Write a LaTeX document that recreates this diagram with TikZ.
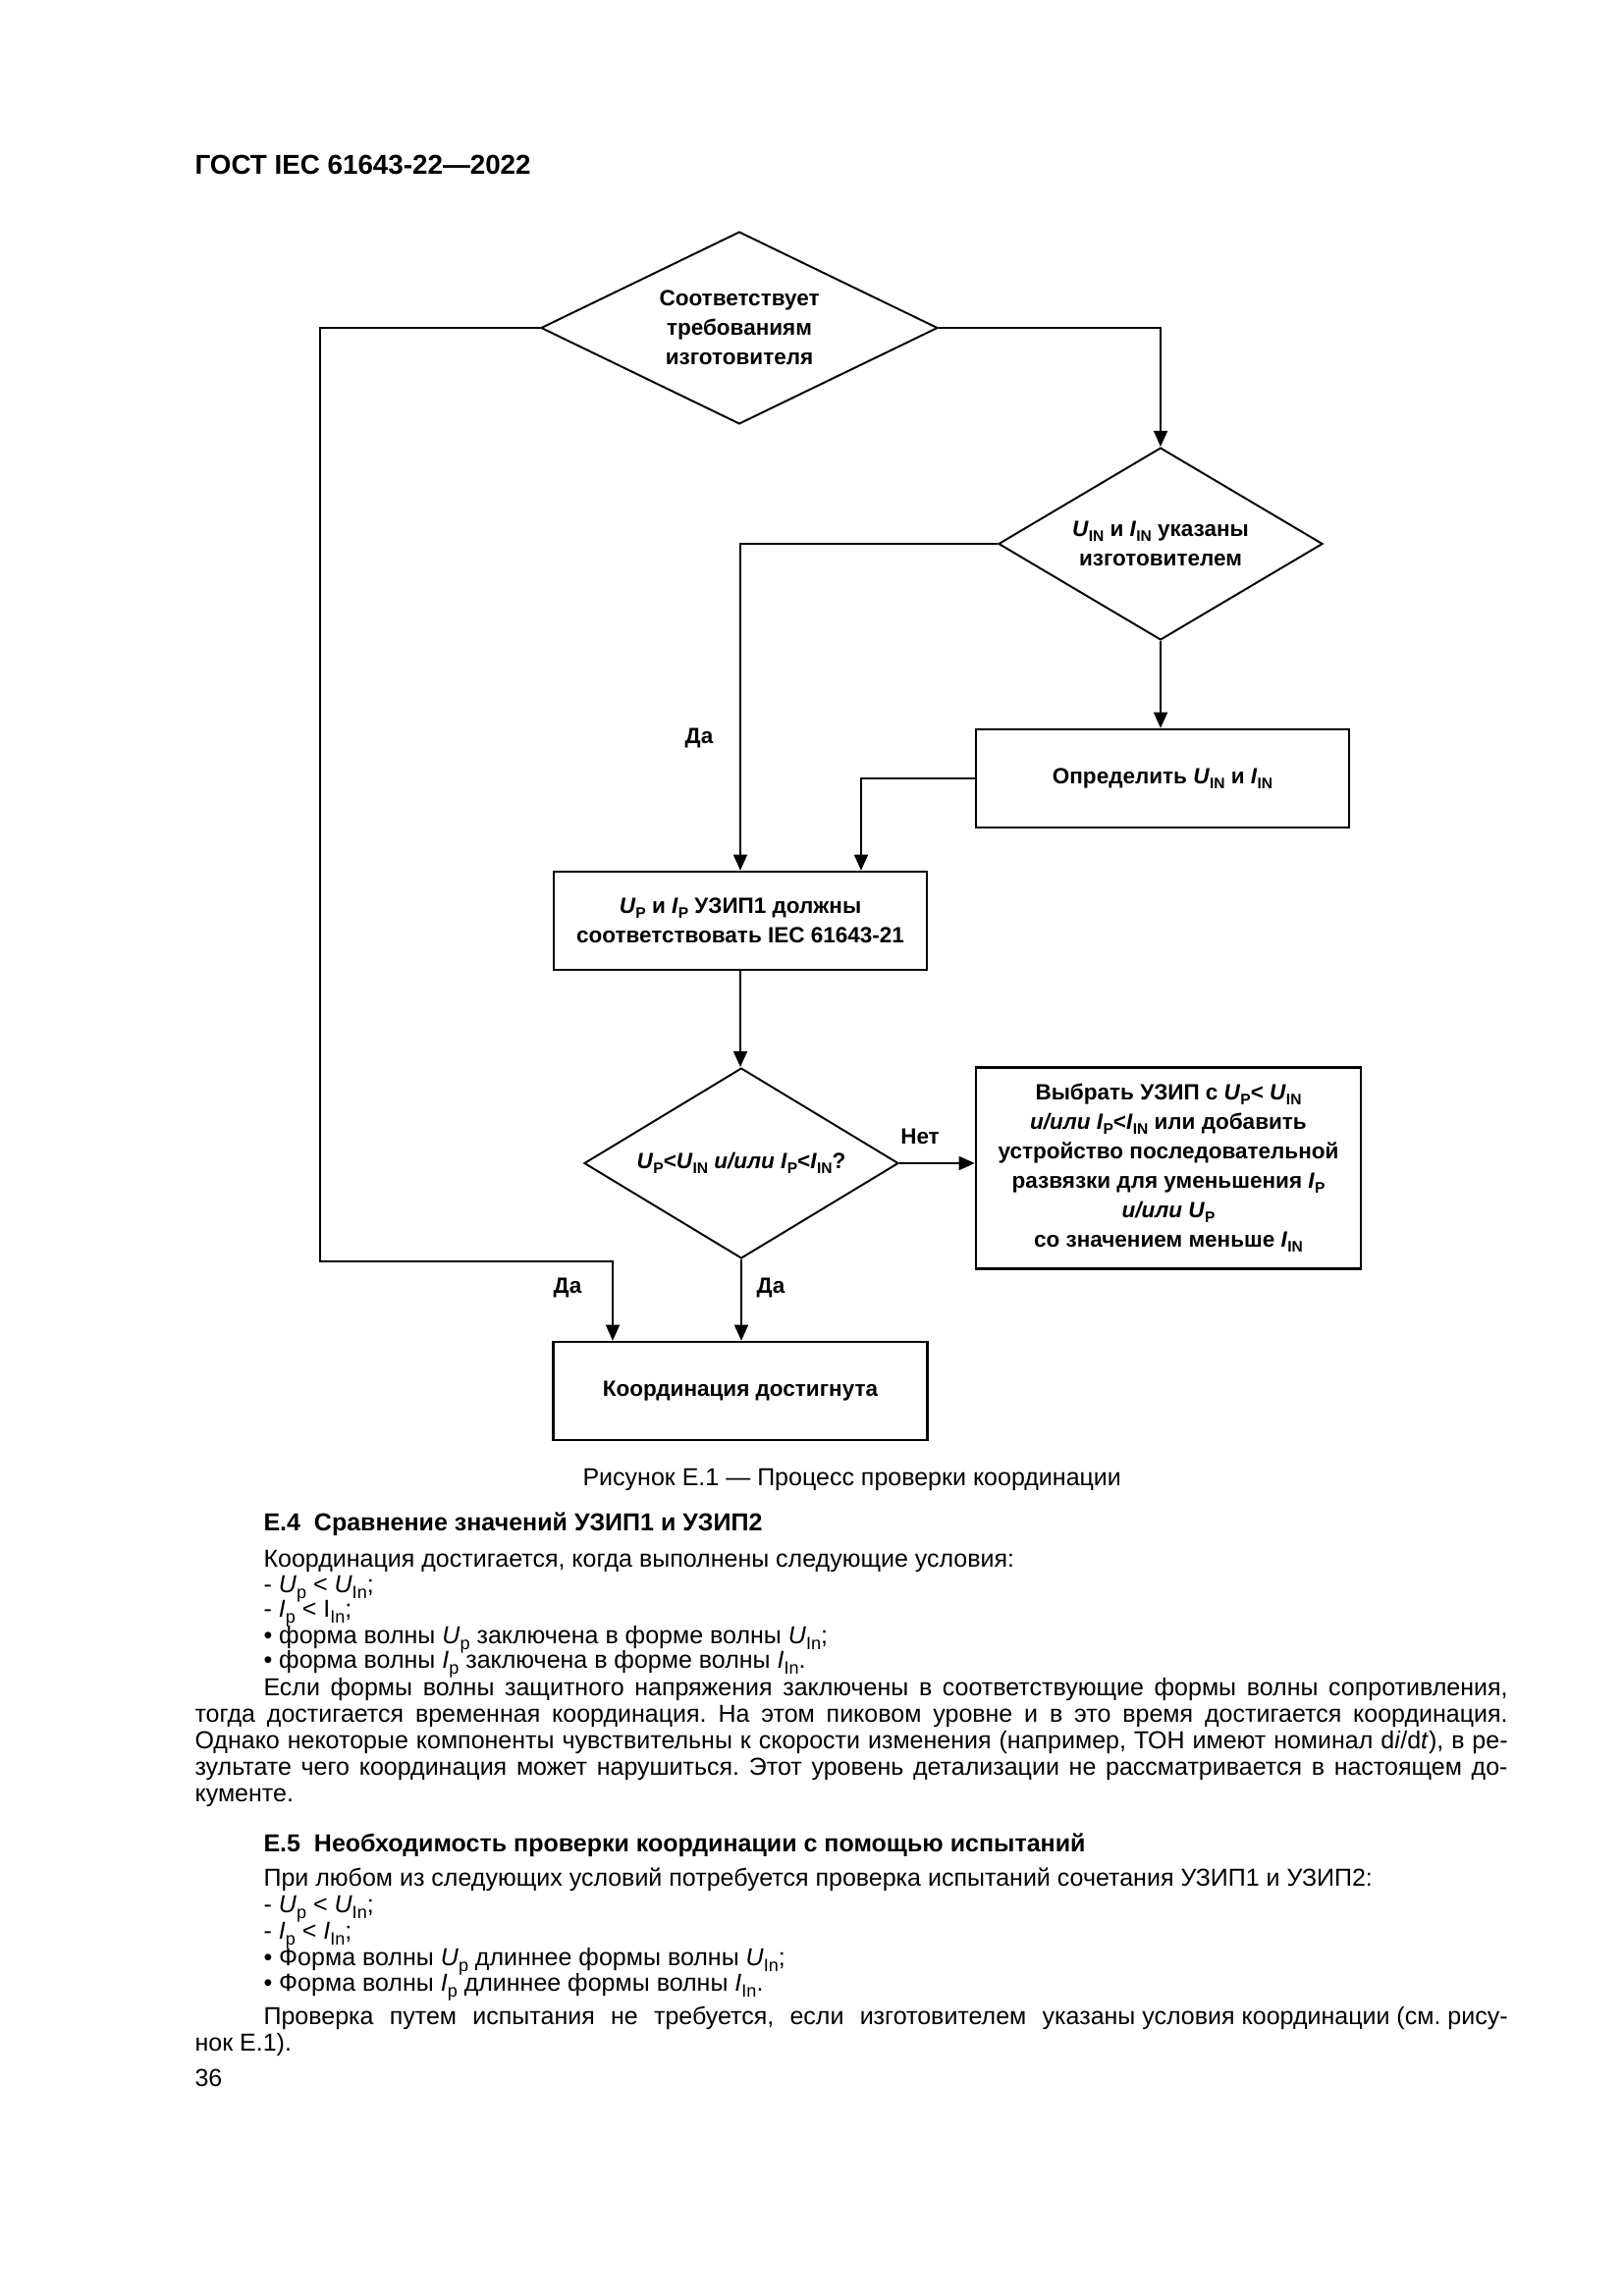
\documentclass[tikz,border=0pt]{standalone}
\usepackage{fontspec}
\setmainfont{Liberation Sans}
\usetikzlibrary{shapes.geometric,arrows.meta}
\frenchspacing
\newcommand{\flowfont}{\bfseries\fontsize{8.1pt}{10.8pt}\selectfont}
\newcommand{\bodyfont}{\fontsize{9pt}{10pt}\selectfont}
\newcommand{\sbt}[1]{\raisebox{-0.5ex}{\fontsize{6.5pt}{7pt}\selectfont #1}}
\newcommand{\fsb}[1]{\raisebox{-0.4ex}{\fontsize{5.6pt}{7pt}\selectfont #1}}
\tikzset{
  box/.style={draw, line width=0.85pt, inner sep=0pt, align=center, font=\flowfont},
  dia/.style={draw, shape=diamond, line width=0.7pt, inner sep=0pt, align=center, font=\flowfont},
  conn/.style={line width=0.7pt},
  arr/.style={conn, -{Triangle[length=5.8pt,width=5pt]}},
  lbl/.style={inner sep=0pt, font=\flowfont},
  txt/.style={anchor=base west, inner sep=0pt, font=\bodyfont},
  hd/.style={anchor=base west, inner sep=0pt, font=\bfseries\fontsize{9pt}{10pt}\selectfont}
}
\begin{document}
\begin{tikzpicture}[x=0.3599pt, y=-0.3599pt]
\fill[white] (0,0) rectangle (1654,2339);
\useasboundingbox (0,0) rectangle (1654,2339);

\node[anchor=base west, inner sep=0pt, font=\bfseries\fontsize{10pt}{12pt}\selectfont] (hdr) at (198,177) {ГОСТ IEC 61643-22—2022};

% flowchart
\node[dia, aspect=2.06, minimum width=145.4pt, minimum height=70.5pt] (d1) at (753,334) {Соответствует\\требованиям\\изготовителя};
\node[dia, aspect=1.68, minimum width=118.8pt, minimum height=70.5pt] (d2) at (1182,554) {\textit{U}\fsb{IN} и \textit{I}\fsb{IN} указаны\\изготовителем};
\node[box, minimum width=136.8pt, minimum height=36pt] (b2) at (1184,793) {Определить \textit{U}\fsb{IN} и \textit{I}\fsb{IN}};
\node[box, minimum width=136.8pt, minimum height=36pt] (b3) at (754,938) {\textit{U}\fsb{P} и \textit{I}\fsb{P} УЗИП1 должны\\соответствовать IEC 61643-21};
\node[dia, aspect=1.65, minimum width=115.2pt, minimum height=69.8pt] (d3) at (755,1185) {\textit{U}\fsb{P}<\textit{U}\fsb{IN} \textit{и/или} \textit{I}\fsb{P}<\textit{I}\fsb{IN}?};
\node[box, minimum width=141.1pt, minimum height=73.8pt] (b4) at (1190,1190) {Выбрать УЗИП с \textit{U}\fsb{P}< \textit{U}\fsb{IN}\\\textit{и/или} \textit{I}\fsb{P}<\textit{I}\fsb{IN} или добавить\\устройство последовательной\\развязки для уменьшения \textit{I}\fsb{P}\\\textit{и/или} \textit{U}\fsb{P}\\со значением меньше \textit{I}\fsb{IN}};
\node[box, minimum width=137.1pt, minimum height=36pt] (b5) at (754,1417) {Координация достигнута};

\coordinate (lc) at (326,1285);
\coordinate (ld) at (624,1285);
\coordinate (mx) at (877,0);
\draw[arr] (d1.west) -| (lc) -- (ld) -- (ld |- b5.north);
\draw[arr] (d1.east) -| (d2.north);
\draw[arr] (d2.west) -| (b3.north);
\draw[arr] (d2.south) -- (d2.south |- b2.north);
\draw[arr] (b2.west) -| (mx |- b3.north);
\draw[arr] (b3.south) -- (b3.south |- d3.north);
\draw[arr] (d3.east) -- (d3.east -| b4.west);
\draw[arr] (d3.south) -- (d3.south |- b5.north);

\node[lbl] (yes1) at (712,752) {Да};
\node[lbl] (no1) at (937,1158) {Нет};
\node[lbl] (yes2) at (785,1312) {Да};
\node[lbl] (yes3) at (578,1312) {Да};

% caption and text
\node[txt] (cap) at (593,1513) {Рисунок Е.1 — Процесс проверки координации};
\node[hd] (h4) at (268,1559) {Е.4\ \ Сравнение значений УЗИП1 и УЗИП2};
\node[txt] (a1) at (268,1596) {Координация достигается, когда выполнены следующие условия:};
\node[txt] (a2) at (268,1622) {- \textit{U}\sbt{p} < \textit{U}\sbt{In};};
\node[txt] (a3) at (268,1647) {- \textit{I}\sbt{p} < I\sbt{In};};
\node[txt] (a4) at (268,1674) {• форма волны \textit{U}\sbt{p} заключена в форме волны \textit{U}\sbt{In};};
\node[txt] (a5) at (268,1699) {• форма волны \textit{I}\sbt{p} заключена в форме волны \textit{I}\sbt{In}.};
\node[txt] (a6) at (268,1727) {\makebox[456pt][s]{Если формы волны защитного напряжения заключены в соответствующие формы волны сопротивления,}};
\node[txt] (a7) at (198,1754) {\makebox[481.2pt][s]{тогда достигается временная координация. На этом пиковом уровне и в это время достигается координация.}};
\node[txt] (a8) at (198,1781) {\makebox[481.2pt][s]{Однако некоторые компоненты чувствительны к скорости изменения (например, ТОН имеют номинал d\textit{i}/d\textit{t}), в ре-}};
\node[txt] (a9) at (198,1808) {\makebox[481.2pt][s]{зультате чего координация может нарушиться. Этот уровень детализации не рассматривается в настоящем до-}};
\node[txt] (a10) at (198,1835) {кументе.};

\node[hd] (h5) at (268,1886) {Е.5\ \ Необходимость проверки координации с помощью испытаний};
\node[txt] (c1) at (268,1921) {При любом из следующих условий потребуется проверка испытаний сочетания УЗИП1 и УЗИП2:};
\node[txt] (c2) at (268,1948) {- \textit{U}\sbt{p} < \textit{U}\sbt{In};};
\node[txt] (c3) at (268,1975) {- \textit{I}\sbt{p} < \textit{I}\sbt{In};};
\node[txt] (c4) at (268,2002) {• Форма волны \textit{U}\sbt{p} длиннее формы волны \textit{U}\sbt{In};};
\node[txt] (c5) at (268,2028) {• Форма волны \textit{I}\sbt{p} длиннее формы волны \textit{I}\sbt{In}.};
\node[txt] (c6) at (268,2062) {\makebox[456pt][s]{Проверка путем испытания не требуется, если изготовителем\ \mbox{указаны условия координации (см. рису-}}};
\node[txt] (c7) at (198,2089) {нок Е.1).};
\node[txt] (pg) at (198,2125) {36};
\end{tikzpicture}
\end{document}
